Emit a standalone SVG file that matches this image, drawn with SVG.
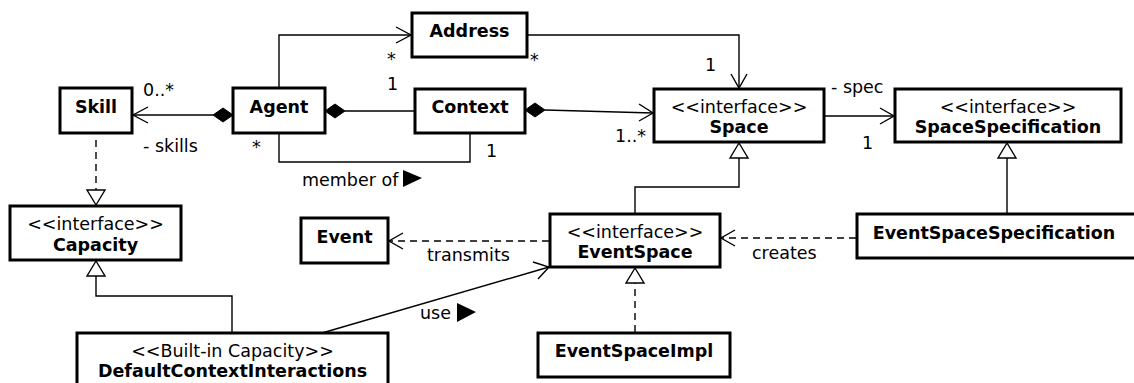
<svg xmlns="http://www.w3.org/2000/svg" width="1134" height="383" viewBox="0 0 1134 383">
<defs>
<style>
.box{fill:#fff;stroke:#000;stroke-width:3}
.ln{fill:none;stroke:#000;stroke-width:1.4}
.dash{fill:none;stroke:#000;stroke-width:1.4;stroke-dasharray:7,5}
.head{fill:none;stroke:#000;stroke-width:1.4}
.tri{fill:#fff;stroke:#000;stroke-width:1.4}
.dia{fill:#000;stroke:#000;stroke-width:1}
text{font-family:"DejaVu Sans","Liberation Sans",sans-serif;font-size:17.5px;fill:#000}
.b{font-weight:bold;text-anchor:middle}
.s{text-anchor:middle}
</style>
</defs>
<rect width="1134" height="383" fill="#fff"/>
<g id="connectors">
<!-- Skill - Agent -->
<line class="ln" x1="133" y1="115" x2="213" y2="115"/>
<polyline class="head" points="148,107 133,115 148,123"/>
<polygon class="dia" points="213,115 223,108 233,115 223,122"/>
<text x="143" y="96">0..*</text>
<text x="143" y="152">- skills</text>
<!-- Agent - Context -->
<line class="ln" x1="345" y1="111" x2="415" y2="111"/>
<polygon class="dia" points="325,111 335,104 345,111 335,118"/>
<!-- Agent - Address -->
<polyline class="ln" points="279,88 279,35 411,35"/>
<polyline class="head" points="396,27 411,35 396,43"/>
<text x="387" y="65">*</text>
<text x="387" y="90">1</text>
<!-- Agent - Context member of -->
<polyline class="ln" points="279,134 279,162 470,162 470,134"/>
<text x="252" y="153">*</text>
<text x="486" y="157">1</text>
<text x="302" y="186">member of</text>
<polygon points="403,170 422,178 403,187" fill="#000"/>
<!-- Address - Space -->
<polyline class="ln" points="528,35 739,35 739,88"/>
<polyline class="head" points="731,74 739,88 747,74"/>
<text x="530" y="66">*</text>
<text x="705" y="71">1</text>
<!-- Context - Space -->
<line class="ln" x1="545" y1="110" x2="653" y2="113"/>
<polygon class="dia" points="525,110 535,103 545,110 535,117"/>
<polyline class="head" points="639,104 653,113 639,121"/>
<text x="615" y="142">1..*</text>
<!-- Space - SpaceSpecification -->
<line class="ln" x1="825" y1="116" x2="894" y2="116"/>
<polyline class="head" points="880,108 894,116 880,124"/>
<text x="831" y="93">- spec</text>
<text x="862" y="149">1</text>
<!-- EventSpace -> Space generalization -->
<polyline class="ln" points="635,213 635,187 739,187 739,158"/>
<polygon class="tri" points="739,143 730,158 748,158"/>
<!-- EventSpaceSpecification -> SpaceSpecification -->
<line class="ln" x1="1007" y1="213" x2="1007" y2="158"/>
<polygon class="tri" points="1007,143 998,158 1016,158"/>
<!-- Skill -> Capacity realization -->
<line class="dash" x1="96" y1="140" x2="96" y2="190"/>
<polygon class="tri" points="96,205 87,190 105,190"/>
<!-- DCI -> Capacity -->
<polyline class="ln" points="232,332 232,296 96,296 96,276"/>
<polygon class="tri" points="96,261 87,276 105,276"/>
<!-- EventSpace -> Event transmits -->
<line class="dash" x1="549" y1="241" x2="389" y2="241"/>
<polyline class="head" points="403,233 389,241 403,249"/>
<text x="427" y="261">transmits</text>
<!-- EventSpaceSpecification -> EventSpace creates -->
<line class="dash" x1="856" y1="238" x2="721" y2="238"/>
<polyline class="head" points="735,230 721,238 735,246"/>
<text x="752" y="259">creates</text>
<!-- EventSpaceImpl -> EventSpace realization -->
<line class="dash" x1="635" y1="332" x2="635" y2="283"/>
<polygon class="tri" points="635,268 626,283 644,283"/>
<!-- DCI -> EventSpace use -->
<line class="ln" x1="322" y1="333" x2="549" y2="267"/>
<polyline class="head" points="533,262 549,267 538,279"/>
<text x="420" y="319">use</text>
<polygon points="457,303 476,312 457,322" fill="#000"/>
</g>
<g id="skill">
<rect class="box" x="60" y="88" width="72" height="45"/>
<text class="b" x="96" y="113">Skill</text>
</g>
<g id="agent">
<rect class="box" x="233" y="88" width="92" height="45"/>
<text class="b" x="279" y="113">Agent</text>
</g>
<g id="address">
<rect class="box" x="412" y="13" width="115" height="44"/>
<text class="b" x="469.5" y="37">Address</text>
</g>
<g id="context">
<rect class="box" x="415" y="89" width="110" height="44"/>
<text class="b" x="470" y="113">Context</text>
</g>
<g id="space">
<rect class="box" x="654" y="89" width="170" height="53"/>
<text class="s" x="739" y="113">&lt;&lt;interface&gt;&gt;</text>
<text class="b" x="739" y="133">Space</text>
</g>
<g id="spacespecification">
<rect class="box" x="895" y="89" width="226" height="53"/>
<text class="s" x="1008" y="113">&lt;&lt;interface&gt;&gt;</text>
<text class="b" x="1008" y="133">SpaceSpecification</text>
</g>
<g id="capacity">
<rect class="box" x="10" y="206" width="171" height="54"/>
<text class="s" x="95.5" y="230">&lt;&lt;interface&gt;&gt;</text>
<text class="b" x="95.5" y="251">Capacity</text>
</g>
<g id="event">
<rect class="box" x="301" y="218" width="87" height="45"/>
<text class="b" x="344.5" y="243">Event</text>
</g>
<g id="eventspace">
<rect class="box" x="550" y="214" width="170" height="53"/>
<text class="s" x="635" y="238">&lt;&lt;interface&gt;&gt;</text>
<text class="b" x="635" y="258">EventSpace</text>
</g>
<g id="eventspacespecification">
<rect class="box" x="857" y="214" width="290" height="44"/>
<text class="b" x="994" y="239">EventSpaceSpecification</text>
</g>
<g id="eventspaceimpl">
<rect class="box" x="538" y="333" width="192" height="44"/>
<text class="b" x="634" y="357">EventSpaceImpl</text>
</g>
<g id="defaultcontextinteractions">
<rect class="box" x="77" y="333" width="311" height="60"/>
<text class="s" x="232.5" y="357">&lt;&lt;Built-in Capacity&gt;&gt;</text>
<text class="b" x="232.5" y="377">DefaultContextInteractions</text>
</g>
</svg>
